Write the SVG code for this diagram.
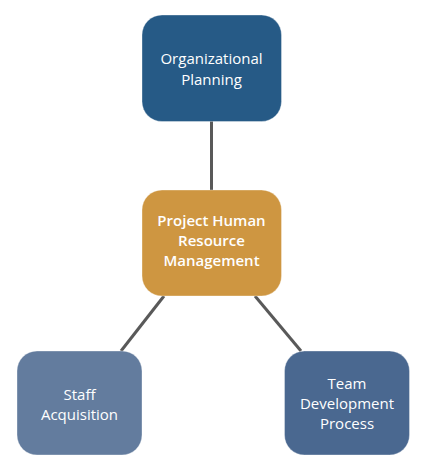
<svg xmlns="http://www.w3.org/2000/svg" width="426" height="474" viewBox="0 0 426 474">
<style>
.box{stroke:#ffffff;stroke-opacity:0.35;stroke-width:1}
.t{font-family:"Open Sans","Noto Sans",sans-serif;font-size:15px;fill:#ffffff;text-anchor:middle}
.b{font-weight:600}
.c{stroke:#595959;stroke-width:3;fill:none}
</style>
<rect width="426" height="474" fill="#ffffff"/>
<g id="connectors">
<line class="c" x1="211.5" y1="121" x2="211.5" y2="190"/>
<line class="c" x1="164" y1="296" x2="121" y2="351"/>
<line class="c" x1="255" y1="296" x2="301" y2="351"/>
</g>
<g id="org">
<rect class="box" x="142" y="15" width="139.5" height="106.5" rx="20" fill="#265a86"/>
<text class="t" x="211.5" y="64">Organizational</text>
<text class="t" x="211.5" y="85">Planning</text>
</g>
<g id="phrm">
<rect class="box" x="142" y="190" width="139.5" height="106" rx="20" fill="#ce9641"/>
<text class="t b" x="211.5" y="226">Project Human</text>
<text class="t b" x="211.5" y="246">Resource</text>
<text class="t b" x="211.5" y="266">Management</text>
</g>
<g id="staff">
<rect class="box" x="17" y="351" width="125" height="104" rx="20" fill="#637c9e"/>
<text class="t" x="79.5" y="400">Staff</text>
<text class="t" x="79.5" y="420">Acquisition</text>
</g>
<g id="team">
<rect class="box" x="284.5" y="351" width="125" height="104" rx="20" fill="#4a6890"/>
<text class="t" x="347" y="389">Team</text>
<text class="t" x="347" y="409">Development</text>
<text class="t" x="347" y="429">Process</text>
</g>
</svg>
